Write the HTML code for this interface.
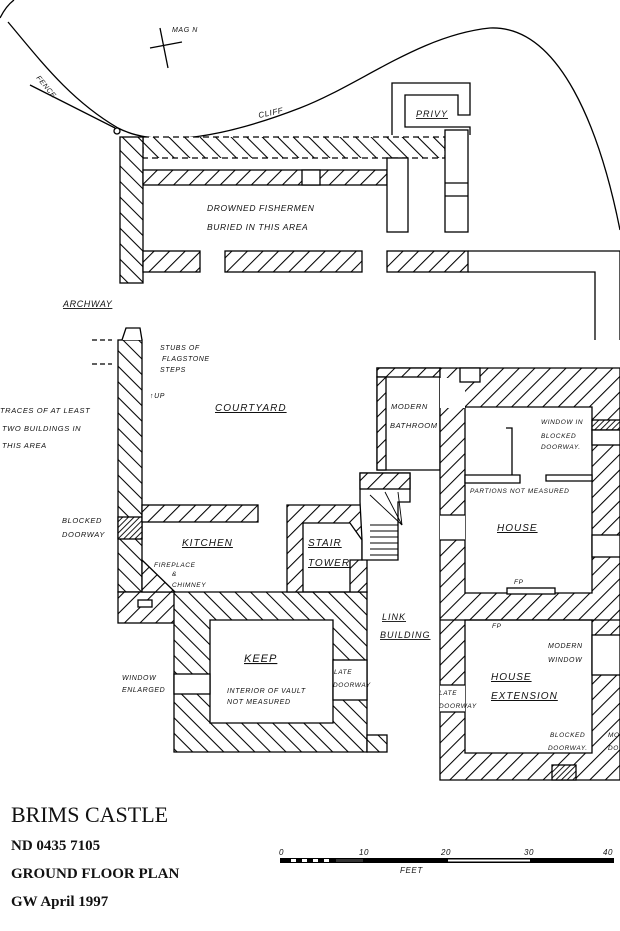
<!DOCTYPE html>
<html><head><meta charset="utf-8"><style>
html,body{margin:0;padding:0;background:#fff;}
svg{display:block}
.h{font-family:"Liberation Sans",sans-serif;font-style:italic;font-size:8.5px;fill:#111;letter-spacing:0.6px}
.hl{font-family:"Liberation Sans",sans-serif;font-style:italic;font-size:11px;fill:#111;letter-spacing:1px}
.t{font-family:"Liberation Serif",serif;fill:#111}
</style></head><body>
<svg width="620" height="931" viewBox="0 0 620 931" xmlns="http://www.w3.org/2000/svg">
<defs>
<pattern id="hr" width="11" height="11" patternUnits="userSpaceOnUse" patternTransform="rotate(45)"><rect width="11" height="11" fill="#fff"/><line x1="0" y1="0" x2="0" y2="11" stroke="#000" stroke-width="2.1"/></pattern>
<pattern id="hl" width="11" height="11" patternUnits="userSpaceOnUse" patternTransform="rotate(-45)"><rect width="11" height="11" fill="#fff"/><line x1="0" y1="0" x2="0" y2="11" stroke="#000" stroke-width="2.1"/></pattern>
<pattern id="hd" width="4" height="4" patternUnits="userSpaceOnUse" patternTransform="rotate(45)"><rect width="4" height="4" fill="#fff"/><line x1="0" y1="0" x2="0" y2="4" stroke="#000" stroke-width="1.8"/></pattern>
</defs>
<g fill="none" stroke="#000" stroke-width="1.3">
<path d="M8,22 C40,60 70,100 118,128 C160,150 230,135 300,108 C360,85 420,35 490,28 C560,25 600,130 620,230"/>
<path d="M0,18 C5,8 10,3 14,0"/>
<path d="M30,85 L115,128"/>
<circle cx="117" cy="131" r="3"/>
<path d="M160,28 L168,68 M150,48 L182,42"/>
</g>
<text x="172" y="32" class="h" style="font-size:7px">MAG N</text>
<text x="36" y="78" class="h" style="font-size:7px" transform="rotate(50 36 78)">FENCE</text>
<text x="259" y="118" class="h" style="font-size:8px" transform="rotate(-12 259 118)">CLIFF</text>

<g stroke="#000" stroke-width="1.3">
<rect x="143" y="137" width="302" height="21" fill="url(#hl)" stroke-dasharray="6,4"/>
<rect x="120" y="137" width="23" height="146" fill="url(#hl)"/>
<rect x="143" y="170" width="244" height="15" fill="url(#hr)"/>
<rect x="302" y="170" width="18" height="15" fill="#fff"/>
<rect x="387" y="158" width="21" height="74" fill="#fff"/>
<rect x="445" y="130" width="23" height="102" fill="#fff"/>
<line x1="445" y1="183" x2="468" y2="183"/><line x1="445" y1="196" x2="468" y2="196"/>
<path d="M392,135 L392,83 L470,83 L470,115 L458,115 L458,95 L405,95 L405,127 L470,127 L470,135" fill="none"/>
<rect x="143" y="251" width="57" height="21" fill="url(#hr)"/>
<rect x="225" y="251" width="137" height="21" fill="url(#hr)"/>
<rect x="387" y="251" width="81" height="21" fill="url(#hr)"/>
<path d="M468,251 L620,251 M468,272 L595,272 L595,340 M620,251 L620,340" fill="none"/>
<rect x="118" y="340" width="24" height="252" fill="url(#hl)"/>
<path d="M122,340 L126,328 L140,328 L142,340" fill="#fff"/>
<rect x="118" y="517" width="24" height="22" fill="url(#hd)"/>
<rect x="118" y="592" width="57" height="31" fill="url(#hr)"/>
<rect x="138" y="600" width="14" height="7" fill="#fff"/>
<line x1="92" y1="340" x2="112" y2="340" stroke-dasharray="5,3"/>
<line x1="92" y1="364" x2="112" y2="364" stroke-dasharray="5,3"/>
<rect x="142" y="505" width="116" height="17" fill="url(#hr)"/>
<path d="M142,560 L175,592 L142,592 Z" fill="url(#hr)"/>
<path d="M174,592 L367,592 L367,752 L174,752 Z M210,620 L210,723 L333,723 L333,620 Z" fill="url(#hl)" fill-rule="evenodd"/>
<rect x="174" y="674" width="36" height="20" fill="#fff"/>
<rect x="333" y="660" width="34" height="40" fill="#fff"/>
<rect x="367" y="735" width="20" height="17" fill="url(#hl)"/>
<path d="M287,505 L367,505 L367,592 L287,592 Z M303,523 L303,592 L350,592 L350,560 L362,560 L362,540 L350,523 Z" fill="url(#hr)" fill-rule="evenodd"/>
<path d="M360,473 L410,473 L410,502 L398,502 L398,560 L362,560 L362,540 L360,502 Z" fill="#fff"/>
<rect x="360" y="473" width="50" height="16" fill="url(#hr)"/>
<g stroke-width="0.9"><line x1="370" y1="525" x2="398" y2="525"/><line x1="370" y1="531" x2="398" y2="531"/><line x1="370" y1="537" x2="398" y2="537"/><line x1="370" y1="543" x2="398" y2="543"/><line x1="370" y1="549" x2="398" y2="549"/><line x1="370" y1="555" x2="398" y2="555"/>
<line x1="402" y1="525" x2="370" y2="495"/><line x1="402" y1="525" x2="385" y2="492"/><line x1="402" y1="525" x2="398" y2="492"/></g>
<path d="M377,368 L440,368 L440,470 L377,470 Z" fill="#fff"/>
<rect x="377" y="368" width="63" height="9" fill="url(#hr)"/>
<rect x="377" y="377" width="9" height="93" fill="url(#hr)"/>
<path d="M440,368 L620,368 L620,780 L440,780 Z M465,407 L465,593 L592,593 L592,407 Z M465,620 L465,753 L592,753 L592,620 Z" fill="url(#hr)" fill-rule="evenodd"/>
<rect x="440" y="378" width="25" height="30" fill="#fff" stroke="none"/>
<rect x="460" y="368" width="20" height="14" fill="#fff"/>
<rect x="440" y="515" width="25" height="25" fill="#fff" stroke="none"/>
<rect x="440" y="685" width="25" height="27" fill="#fff" stroke="none"/>
<line x1="440" y1="515" x2="465" y2="515"/><line x1="440" y1="540" x2="465" y2="540"/>
<line x1="440" y1="685" x2="465" y2="685"/><line x1="440" y1="712" x2="465" y2="712"/>
<line x1="440" y1="620" x2="620" y2="620"/>
<rect x="592" y="420" width="28" height="10" fill="url(#hd)"/>
<rect x="592" y="430" width="28" height="15" fill="#fff"/>
<rect x="592" y="535" width="28" height="22" fill="#fff"/>
<rect x="592" y="635" width="28" height="40" fill="#fff"/>
<rect x="552" y="765" width="24" height="15" fill="url(#hd)"/>
<rect x="507" y="588" width="48" height="6" fill="#fff"/>
<path d="M465,475 L520,475 L520,483 L465,483 Z" fill="#fff"/>
<path d="M506,428 L512,428 L512,475" fill="none"/>
<path d="M546,475 L592,475 L592,481 L546,481 Z" fill="#fff"/>
</g>

<text x="63" y="307" class="h" style="font-size:9px;text-decoration:underline">ARCHWAY</text>
<text x="160" y="350" class="h" style="font-size:7px">STUBS OF</text>
<text x="162" y="361" class="h" style="font-size:7px">FLAGSTONE</text>
<text x="160" y="372" class="h" style="font-size:7px">STEPS</text>
<text x="150" y="398" class="h" style="font-size:7px">↑UP</text>
<text x="215" y="411" class="hl" style="text-decoration:underline;font-size:10px">COURTYARD</text>
<text x="0" y="413" class="h" style="font-size:7.5px">TRACES OF AT LEAST</text>
<text x="2" y="431" class="h" style="font-size:7.5px">TWO BUILDINGS IN</text>
<text x="2" y="448" class="h" style="font-size:7.5px">THIS AREA</text>
<text x="62" y="523" class="h" style="font-size:7.5px">BLOCKED</text>
<text x="62" y="537" class="h" style="font-size:7.5px">DOORWAY</text>
<text x="182" y="546" class="hl" style="text-decoration:underline;font-size:10px">KITCHEN</text>
<text x="154" y="567" class="h" style="font-size:6.5px">FIREPLACE</text>
<text x="172" y="576" class="h" style="font-size:6.5px">&amp;</text>
<text x="172" y="587" class="h" style="font-size:6.5px">CHIMNEY</text>
<text x="308" y="546" class="hl" style="text-decoration:underline;font-size:10px">STAIR</text>
<text x="308" y="566" class="hl" style="text-decoration:underline;font-size:10px">TOWER</text>
<text x="244" y="662" class="hl" style="text-decoration:underline;font-size:11px">KEEP</text>
<text x="227" y="693" class="h" style="font-size:7px">INTERIOR OF VAULT</text>
<text x="227" y="704" class="h" style="font-size:7px">NOT MEASURED</text>
<text x="122" y="680" class="h" style="font-size:7px">WINDOW</text>
<text x="122" y="692" class="h" style="font-size:7px">ENLARGED</text>
<text x="334" y="674" class="h" style="font-size:6.5px">LATE</text>
<text x="333" y="687" class="h" style="font-size:6.5px">DOORWAY</text>
<text x="382" y="620" class="hl" style="text-decoration:underline;font-size:9px">LINK</text>
<text x="380" y="638" class="hl" style="text-decoration:underline;font-size:9px">BUILDING</text>
<text x="391" y="409" class="h" style="font-size:7.5px">MODERN</text>
<text x="390" y="428" class="h" style="font-size:7.5px">BATHROOM</text>
<text x="541" y="424" class="h" style="font-size:6.5px">WINDOW IN</text>
<text x="541" y="438" class="h" style="font-size:6.5px">BLOCKED</text>
<text x="541" y="449" class="h" style="font-size:6.5px">DOORWAY.</text>
<text x="470" y="493" class="h" style="font-size:6.5px">PARTIONS NOT MEASURED</text>
<text x="497" y="531" class="hl" style="text-decoration:underline;font-size:10px">HOUSE</text>
<text x="514" y="584" class="h" style="font-size:6.5px">FP</text>
<text x="492" y="628" class="h" style="font-size:6.5px">FP</text>
<text x="548" y="648" class="h" style="font-size:7px">MODERN</text>
<text x="548" y="662" class="h" style="font-size:7px">WINDOW</text>
<text x="491" y="680" class="hl" style="text-decoration:underline;font-size:10px">HOUSE</text>
<text x="491" y="699" class="hl" style="text-decoration:underline;font-size:10px">EXTENSION</text>
<text x="439" y="695" class="h" style="font-size:6.5px">LATE</text>
<text x="439" y="708" class="h" style="font-size:6.5px">DOORWAY</text>
<text x="550" y="737" class="h" style="font-size:6.5px">BLOCKED</text>
<text x="548" y="750" class="h" style="font-size:6.5px">DOORWAY.</text>
<text x="608" y="737" class="h" style="font-size:6.5px">MO</text>
<text x="608" y="750" class="h" style="font-size:6.5px">DO</text>
<text x="207" y="211" class="h" style="font-size:8.5px">DROWNED FISHERMEN</text>
<text x="207" y="230" class="h" style="font-size:8.5px">BURIED IN THIS AREA</text>
<text x="416" y="117" class="hl" style="text-decoration:underline;font-size:9px">PRIVY</text>

<text x="11" y="822" class="t" style="font-size:22px">BRIMS CASTLE</text>
<text x="11" y="850" class="t" style="font-size:15px;font-weight:bold">ND 0435 7105</text>
<text x="11" y="878" class="t" style="font-size:15px;font-weight:bold">GROUND FLOOR PLAN</text>
<text x="11" y="906" class="t" style="font-size:15px;font-weight:bold">GW April 1997</text>

<rect x="280" y="858" width="334" height="5" fill="#000"/>
<g fill="#fff"><rect x="291" y="859" width="5" height="3"/><rect x="302" y="859" width="5" height="3"/><rect x="313" y="859" width="5" height="3"/><rect x="324" y="859" width="5" height="3"/><rect x="336" y="859" width="27" height="3" fill="#333"/><rect x="448" y="859.5" width="82" height="2"/></g>
<g class="h" style="font-size:8px"><text x="279" y="855">0</text><text x="359" y="855">10</text><text x="441" y="855">20</text><text x="524" y="855">30</text><text x="603" y="855">40</text><text x="400" y="873">FEET</text></g>
</svg>
</body></html>
